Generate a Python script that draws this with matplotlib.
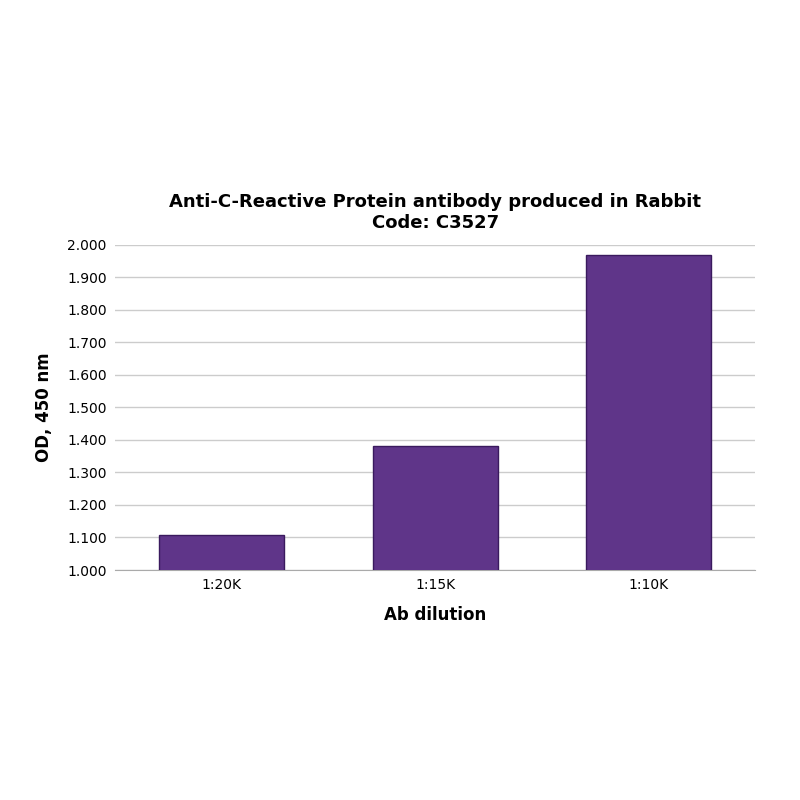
import matplotlib
matplotlib.use("Agg")
import matplotlib.pyplot as plt

categories = ["1:20K", "1:15K", "1:10K"]
values = [1.107, 1.380, 1.970]
yticks = [1.0, 1.1, 1.2, 1.3, 1.4, 1.5, 1.6, 1.7, 1.8, 1.9, 2.0]

plt.rcParams['font.family'] = ['Verdana', 'DejaVu Sans']
fig = plt.figure(figsize=(8, 8), dpi=100)
ax = fig.add_axes([0.144, 0.2875, 0.8, 0.4065])
x = range(len(categories))
ax.bar(x, values, width=0.585, color="#5f3589", edgecolor="#3a1a5e", linewidth=1, zorder=3)
ax.set_xlim(-0.5, 2.5)
ax.set_ylim(1.0, 2.0)
ax.set_yticks(yticks)
ax.set_yticklabels([f"{v:.3f}" for v in yticks], fontsize=10)
ax.set_xticks(list(x))
ax.set_xticklabels(categories, fontsize=10)
ax.grid(axis="y", color="#cccccc", linewidth=1, zorder=0)
for s in ["top", "right", "left"]:
    ax.spines[s].set_visible(False)
ax.spines["bottom"].set_color("#aaaaaa")
ax.tick_params(axis="both", length=0, pad=6)
ax.set_xlabel("Ab dilution", fontsize=12, fontweight="bold", labelpad=10)
ax.set_ylabel("OD, 450 nm", fontsize=12, fontweight="bold", labelpad=10)
ax.set_title("Anti-C-Reactive Protein antibody produced in Rabbit\nCode: C3527",
             fontsize=13, fontweight="bold", pad=12, x=0.5)
fig.savefig("out.png")
